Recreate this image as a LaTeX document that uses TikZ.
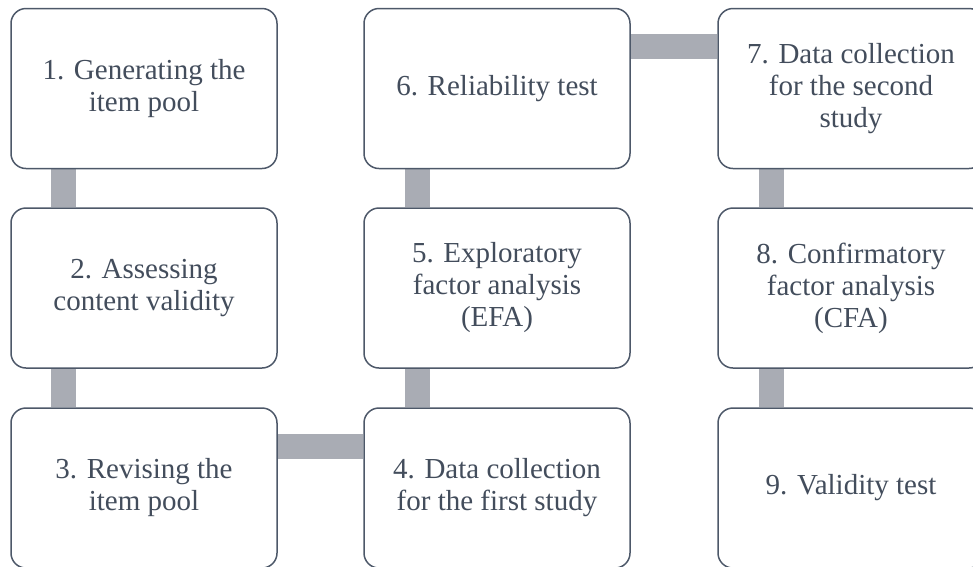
\documentclass[tikz,border=0pt]{standalone}
\usepackage{fontspec}
\setmainfont{Liberation Serif}
\usetikzlibrary{backgrounds}
\definecolor{boxline}{RGB}{77,88,105}
\definecolor{boxtext}{RGB}{67,77,92}
\definecolor{barfill}{RGB}{169,172,180}

\begin{document}
\begin{tikzpicture}[x=1pt, y=-1pt,
    stepbox/.style={draw=boxline, line width=1.5pt, rounded corners=15pt, fill=white,
                    minimum width=266pt, minimum height=160pt, inner sep=0pt,
                    align=center, text=boxtext,
                    font=\fontsize{29}{32}\selectfont},
    bar/.style={barfill, line width=25pt}]
      \useasboundingbox (0,0) rectangle (973,566);
      \node[stepbox] (s1) at (144, 88.5) {1. Generating the\\item pool};
      \node[stepbox] (s2) at (144, 288)  {2. Assessing\\content validity};
      \node[stepbox] (s3) at (144, 488)  {3. Revising the\\item pool};
      \node[stepbox] (s4) at (497, 488)  {4. Data collection\\for the first study};
      \node[stepbox] (s5) at (497, 288)  {5. Exploratory\\factor analysis\\(EFA)};
      \node[stepbox] (s6) at (497, 88.5) {6. Reliability test};
      \node[stepbox] (s7) at (851, 88.5) {7. Data collection\\for the second\\study};
      \node[stepbox] (s8) at (851, 288)  {8. Confirmatory\\factor analysis\\(CFA)};
      \node[stepbox] (s9) at (851, 488)  {9. Validity test};
      \begin{scope}[on background layer]
      \draw[bar] ([xshift=53pt]s1.south west) -- ([xshift=53pt]s2.north west);
      \draw[bar] ([xshift=53pt]s2.south west) -- ([xshift=53pt]s3.north west);
      \draw[bar] ([yshift=-39pt]s3.north east) -- ([yshift=-39pt]s4.north west);
      \draw[bar] ([xshift=54pt]s4.north west) -- ([xshift=54pt]s5.south west);
      \draw[bar] ([xshift=54pt]s5.north west) -- ([xshift=54pt]s6.south west);
      \draw[bar] ([yshift=-39pt]s6.north east) -- ([yshift=-39pt]s7.north west);
      \draw[bar] ([xshift=54pt]s7.south west) -- ([xshift=54pt]s8.north west);
      \draw[bar] ([xshift=54pt]s8.south west) -- ([xshift=54pt]s9.north west);
      \end{scope}
    \end{tikzpicture}
\end{document}
